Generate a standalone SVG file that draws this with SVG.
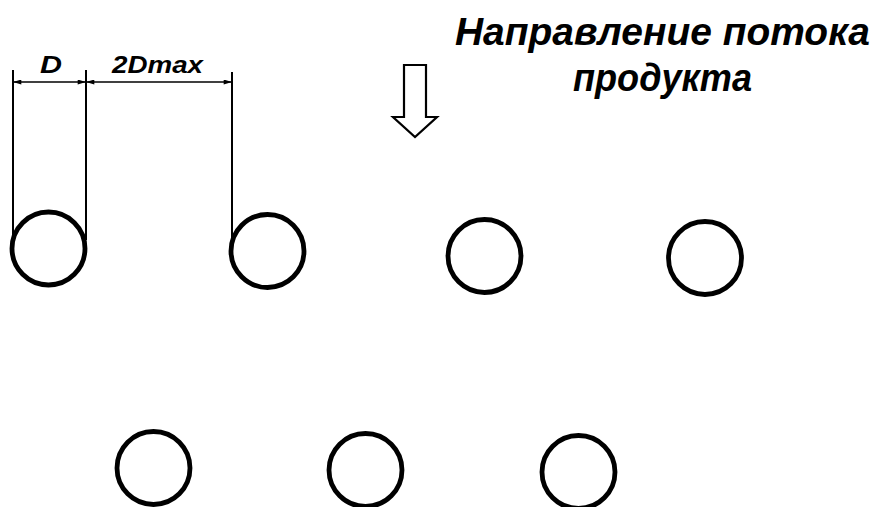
<svg xmlns="http://www.w3.org/2000/svg" width="878" height="507" viewBox="0 0 878 507">
<defs>
<style>
.c{fill:none;stroke:#000;stroke-width:4.8}
.e{stroke:#000;stroke-width:2;fill:none}
.d{stroke:#000;stroke-width:1.6;fill:none}
.t{font-family:"Liberation Sans",Arial,sans-serif;font-style:italic;font-weight:bold;fill:#000}
</style>
<marker id="ah" viewBox="0 0 10 6" refX="10" refY="3" markerWidth="10" markerHeight="5" markerUnits="userSpaceOnUse" orient="auto-start-reverse">
<path d="M0,0 L10,3 L0,6 z" fill="#000"/>
</marker>
</defs>
<rect width="878" height="507" fill="#fff"/>
<g id="title">
<text class="t" x="455" y="45" font-size="38" textLength="415" lengthAdjust="spacingAndGlyphs">Направление  потока</text>
<text class="t" x="573" y="91" font-size="38" textLength="179" lengthAdjust="spacingAndGlyphs">продукта</text>
</g>
<g id="flow-arrow">
<path d="M404,65 L426,65 L426,117 L437,117 L415,137 L393,117 L404,117 Z" fill="none" stroke="#000" stroke-width="2.2" stroke-linejoin="miter"/>
</g>
<g id="dimensions">
<line class="e" x1="13" y1="70" x2="13" y2="238"/>
<line class="e" x1="86" y1="70" x2="86" y2="240"/>
<line class="e" x1="232" y1="72" x2="232" y2="242"/>
<line class="d" x1="13" y1="82" x2="86" y2="82" marker-start="url(#ah)" marker-end="url(#ah)"/>
<line class="d" x1="86" y1="82" x2="232" y2="82" marker-start="url(#ah)" marker-end="url(#ah)"/>
<text class="t" x="40" y="73" font-size="23" textLength="22" lengthAdjust="spacingAndGlyphs">D</text>
<text class="t" x="112" y="73" font-size="23" textLength="91" lengthAdjust="spacingAndGlyphs">2Dmax</text>
</g>
<g id="circle-1"><circle class="c" cx="48.5" cy="248.5" r="36.5"/></g>
<g id="circle-2"><circle class="c" cx="267.5" cy="251" r="36.5"/></g>
<g id="circle-3"><circle class="c" cx="484.5" cy="256" r="36.5"/></g>
<g id="circle-4"><circle class="c" cx="705" cy="258" r="36.5"/></g>
<g id="circle-5"><circle class="c" cx="153.5" cy="468" r="36.5"/></g>
<g id="circle-6"><circle class="c" cx="365.5" cy="470" r="36.5"/></g>
<g id="circle-7"><circle class="c" cx="578.5" cy="472" r="36.5"/></g>
</svg>
